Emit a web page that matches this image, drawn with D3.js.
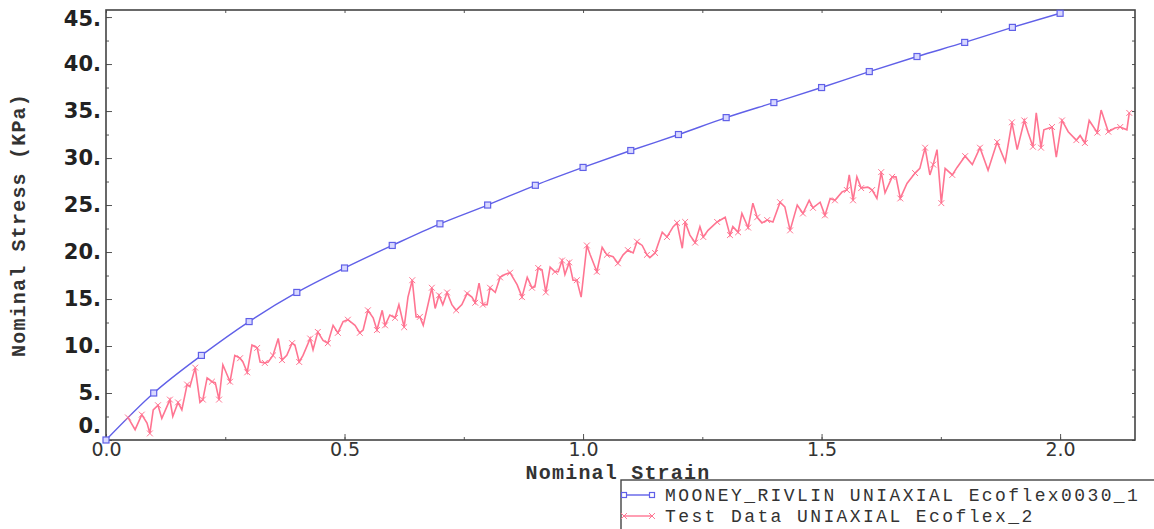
<!DOCTYPE html>
<html lang="en">
<head>
    <meta charset="UTF-8">
    <title>Nominal Stress vs Nominal Strain</title>
    <script src="https://d3js.org/d3.v7.min.js"></script>
    <style>
        body { margin: 0; background: #fff; }
        .ylab text { font-family: "DejaVu Sans", sans-serif; font-weight: bold; font-size: 21px; fill: #222; }
        .xlab text { font-family: "DejaVu Sans", sans-serif; font-size: 19px; fill: #333; }
        .title { font-family: "Liberation Mono", monospace; font-weight: bold; font-size: 20px; letter-spacing: 1.2px; fill: #333; }
        .legend text { font-family: "Liberation Mono", monospace; font-size: 18px; letter-spacing: 2.4px; fill: #333; }
        .tick line { stroke: #555; }
    </style>
</head>
<body>
    <svg id="chart"></svg>

    <script>
        // Mooney-Rivlin fit, one marker every 0.1 strain
        const mrStrain = [0.0, 0.1, 0.2, 0.3, 0.4, 0.5, 0.6, 0.7, 0.8, 0.9, 1.0,
                          1.1, 1.2, 1.3, 1.4, 1.5, 1.6, 1.7, 1.8, 1.9, 2.0];
        const mrStress = [0.0, 5.0, 9.0, 12.6, 15.7, 18.3, 20.7, 23.0, 25.0, 27.1, 29.0,
                          30.8, 32.5, 34.3, 35.9, 37.5, 39.2, 40.8, 42.3, 43.9, 45.4];

        // Test data
        const testStrain = [
            0.046, 0.061, 0.075, 0.086, 0.092, 0.099, 0.109, 0.117, 0.134, 0.140, 0.151, 0.159,
            0.170, 0.176, 0.187, 0.197, 0.203, 0.212, 0.222, 0.229, 0.237, 0.245, 0.260, 0.270,
            0.281, 0.287, 0.296, 0.306, 0.317, 0.323, 0.333, 0.340, 0.350, 0.361, 0.369, 0.379,
            0.390, 0.396, 0.405, 0.413, 0.428, 0.434, 0.444, 0.455, 0.465, 0.476, 0.486, 0.497,
            0.507, 0.522, 0.532, 0.539, 0.549, 0.560, 0.568, 0.579, 0.585, 0.595, 0.606, 0.614,
            0.625, 0.633, 0.642, 0.650, 0.658, 0.665, 0.683, 0.690, 0.698, 0.706, 0.715, 0.725,
            0.734, 0.746, 0.757, 0.767, 0.774, 0.782, 0.790, 0.799, 0.805, 0.816, 0.826, 0.836,
            0.847, 0.862, 0.872, 0.883, 0.893, 0.899, 0.906, 0.914, 0.922, 0.931, 0.941, 0.948,
            0.956, 0.962, 0.971, 0.979, 0.987, 0.996, 1.008, 1.015, 1.029, 1.040, 1.050, 1.063,
            1.073, 1.084, 1.094, 1.105, 1.113, 1.124, 1.134, 1.140, 1.151, 1.166, 1.176, 1.189,
            1.197, 1.208, 1.214, 1.224, 1.235, 1.245, 1.252, 1.262, 1.281, 1.298, 1.308, 1.314,
            1.325, 1.333, 1.346, 1.356, 1.365, 1.375, 1.386, 1.398, 1.413, 1.423, 1.434, 1.449,
            1.461, 1.474, 1.482, 1.497, 1.507, 1.518, 1.528, 1.543, 1.553, 1.558, 1.566, 1.574,
            1.583, 1.597, 1.606, 1.616, 1.625, 1.633, 1.648, 1.656, 1.665, 1.679, 1.696, 1.706,
            1.717, 1.727, 1.734, 1.742, 1.751, 1.759, 1.774, 1.784, 1.801, 1.816, 1.832, 1.849,
            1.868, 1.885, 1.899, 1.910, 1.925, 1.933, 1.943, 1.950, 1.960, 1.966, 1.983, 1.992,
            2.004, 2.017, 2.034, 2.042, 2.052, 2.061, 2.078, 2.086, 2.101, 2.115, 2.126, 2.140,
            2.145];
        const testStress = [
            2.4, 1.1, 2.7, 1.8, 0.7, 3.2, 3.7, 2.3, 4.3, 2.5, 4.0, 3.2,
            5.9, 5.7, 7.7, 4.0, 4.3, 6.6, 6.2, 6.1, 4.3, 8.0, 6.2, 9.0,
            8.7, 8.3, 7.2, 10.1, 9.8, 8.3, 8.2, 8.3, 9.0, 10.8, 8.5, 9.0,
            10.3, 10.1, 8.3, 9.0, 10.8, 9.6, 11.5, 10.6, 10.3, 12.2, 11.4, 12.6,
            12.8, 12.2, 11.4, 11.7, 13.8, 13.0, 11.7, 13.8, 12.2, 13.3, 13.0, 14.4,
            12.0, 15.2, 17.0, 13.1, 13.1, 12.2, 16.2, 14.0, 15.4, 14.4, 15.7, 14.4,
            13.8, 14.4, 15.6, 15.2, 14.6, 16.7, 14.4, 14.4, 16.2, 15.7, 17.3, 17.6,
            17.8, 16.5, 15.2, 17.3, 16.2, 16.3, 18.3, 18.1, 15.7, 18.4, 17.9, 17.9,
            19.1, 17.6, 18.9, 17.0, 17.0, 15.2, 20.7, 19.7, 17.9, 20.5, 19.7, 19.5,
            18.8, 19.7, 20.2, 19.9, 21.1, 20.7, 19.7, 19.4, 19.9, 22.1, 21.6, 22.7,
            23.1, 20.4, 23.2, 21.8, 21.0, 22.7, 21.6, 22.3, 23.2, 23.7, 21.8, 22.7,
            22.1, 24.1, 22.6, 25.2, 23.7, 23.1, 23.4, 23.2, 25.3, 24.8, 22.3, 25.0,
            24.1, 25.5, 24.7, 25.3, 23.9, 25.7, 25.5, 26.4, 26.6, 28.2, 25.5, 28.0,
            26.8, 26.9, 26.6, 25.7, 28.5, 26.3, 28.0, 28.0, 25.7, 27.3, 28.4, 28.9,
            31.1, 28.2, 29.3, 30.9, 25.2, 28.9, 28.2, 29.0, 30.2, 29.3, 31.1, 28.7,
            31.7, 29.6, 33.8, 30.9, 34.0, 32.7, 31.2, 34.8, 31.1, 33.0, 33.3, 30.1,
            34.0, 32.8, 31.9, 32.4, 31.6, 34.0, 32.7, 35.1, 32.8, 33.2, 33.3, 33.0,
            34.8];

        const yTicks = [0, 5, 10, 15, 20, 25, 30, 35, 40, 45];
        const xTicks = [0.0, 0.5, 1.0, 1.5, 2.0];
        const seriesNames = ["MOONEY_RIVLIN UNIAXIAL Ecoflex0030_1", "Test Data UNIAXIAL Ecoflex_2"];

        const width = 1154, height = 529;
        const plot = { left: 106, right: 1135, top: 10, bottom: 440 };
        const blue = "#6060e8", pink = "#ff7592";

        const svg = d3.select("#chart").attr("width", width).attr("height", height);

        const x = d3.scaleLinear().domain([0, 2.157]).range([plot.left, plot.right]);
        const y = d3.scaleLinear().domain([0, 45.75]).range([plot.bottom, plot.top]);

        const mrData = mrStrain.map((s, i) => ({ x: s, y: mrStress[i] }));
        const testData = testStrain.map((s, i) => ({ x: s, y: testStress[i] }));

        // minor ticks on all four sides
        const yMinor = d3.range(0, 45.1, 2.5);
        const xMinor = d3.range(0, 2.16, 0.25);
        svg.append("g").attr("class", "tick").attr("transform", `translate(${plot.left},0)`)
            .call(d3.axisLeft(y).tickValues(yMinor).tickSize(-3).tickFormat(""))
            .call(g => g.select(".domain").remove());
        svg.append("g").attr("class", "tick").attr("transform", `translate(${plot.right},0)`)
            .call(d3.axisRight(y).tickValues(yMinor).tickSize(-3).tickFormat(""))
            .call(g => g.select(".domain").remove());
        svg.append("g").attr("class", "tick").attr("transform", `translate(0,${plot.bottom})`)
            .call(d3.axisBottom(x).tickValues(xMinor).tickSize(-3).tickFormat(""))
            .call(g => g.select(".domain").remove());
        svg.append("g").attr("class", "tick").attr("transform", `translate(0,${plot.top})`)
            .call(d3.axisTop(x).tickValues(xMinor).tickSize(-3).tickFormat(""))
            .call(g => g.select(".domain").remove());

        // major ticks and labels
        const yAxis = svg.append("g").attr("class", "ylab").attr("transform", `translate(${plot.left},0)`)
            .call(d3.axisLeft(y).tickValues(yTicks).tickSize(-6).tickPadding(5).tickFormat(d => d + "."));
        yAxis.select(".domain").remove();
        yAxis.selectAll(".tick line").attr("stroke", "#555");
        yAxis.selectAll(".tick text").filter(d => d === 0).attr("dy", "-0.35em");
        yAxis.selectAll(".tick text").filter(d => d === 45).attr("dy", "0.42em");

        const xAxis = svg.append("g").attr("class", "xlab").attr("transform", `translate(0,${plot.bottom})`)
            .call(d3.axisBottom(x).tickValues(xTicks).tickSize(-6).tickPadding(2).tickFormat(d3.format(".1f")));
        xAxis.select(".domain").remove();
        xAxis.selectAll(".tick line").attr("stroke", "#555");

        // frame
        svg.append("rect")
            .attr("x", plot.left).attr("y", plot.top)
            .attr("width", plot.right - plot.left).attr("height", plot.bottom - plot.top)
            .attr("fill", "none").attr("stroke", "#444").attr("stroke-width", 1.6);

        // curves
        svg.append("path").datum(mrData)
            .attr("fill", "none").attr("stroke", blue).attr("stroke-width", 1.4)
            .attr("d", d3.line().x(d => x(d.x)).y(d => y(d.y)).curve(d3.curveMonotoneX));

        svg.append("path").datum(testData)
            .attr("fill", "none").attr("stroke", pink).attr("stroke-width", 1.6)
            .attr("d", d3.line().x(d => x(d.x)).y(d => y(d.y)));

        svg.selectAll(".mr-mark").data(mrData).enter().append("rect")
            .attr("x", d => x(d.x) - 3).attr("y", d => y(d.y) - 3)
            .attr("width", 6).attr("height", 6)
            .attr("fill", "#d8d8ff").attr("stroke", blue).attr("stroke-width", 1.2);

        const cross = d3.symbol().type(d3.symbolX).size(24);
        svg.selectAll(".td-mark").data(testData.filter((d, i) => i % 2 === 0)).enter().append("path")
            .attr("transform", d => `translate(${x(d.x)},${y(d.y)})`)
            .attr("d", cross).attr("fill", "none").attr("stroke", pink).attr("stroke-width", 1);

        // axis titles
        svg.append("text").attr("class", "title")
            .attr("x", 618).attr("y", 479).attr("text-anchor", "middle")
            .text("Nominal Strain");
        svg.append("text").attr("class", "title")
            .attr("transform", "translate(25,225) rotate(-90)").attr("text-anchor", "middle")
            .text("Nominal Stress (KPa)");

        // legend
        const legend = svg.append("g").attr("class", "legend").attr("transform", "translate(621,480)");
        legend.append("rect").attr("x", 0).attr("y", 0).attr("width", 560).attr("height", 60)
            .attr("fill", "#fff").attr("stroke", "#444").attr("stroke-width", 1.4);
        [blue, pink].forEach((c, i) => {
            const ly = 15 + i * 21;
            legend.append("line").attr("x1", 3).attr("x2", 31).attr("y1", ly).attr("y2", ly)
                .attr("stroke", c).attr("stroke-width", 1.4);
            [3, 31].forEach(px => {
                if (i === 0) {
                    legend.append("rect").attr("x", px - 2.5).attr("y", ly - 2.5).attr("width", 5).attr("height", 5)
                        .attr("fill", "#fff").attr("stroke", c).attr("stroke-width", 1.2);
                } else {
                    legend.append("path").attr("transform", `translate(${px},${ly})`)
                        .attr("d", cross).attr("fill", "none").attr("stroke", c).attr("stroke-width", 1);
                }
            });
            legend.append("text").attr("x", 44).attr("y", ly + 6).text(seriesNames[i]);
        });
    </script>
</body>
</html>
